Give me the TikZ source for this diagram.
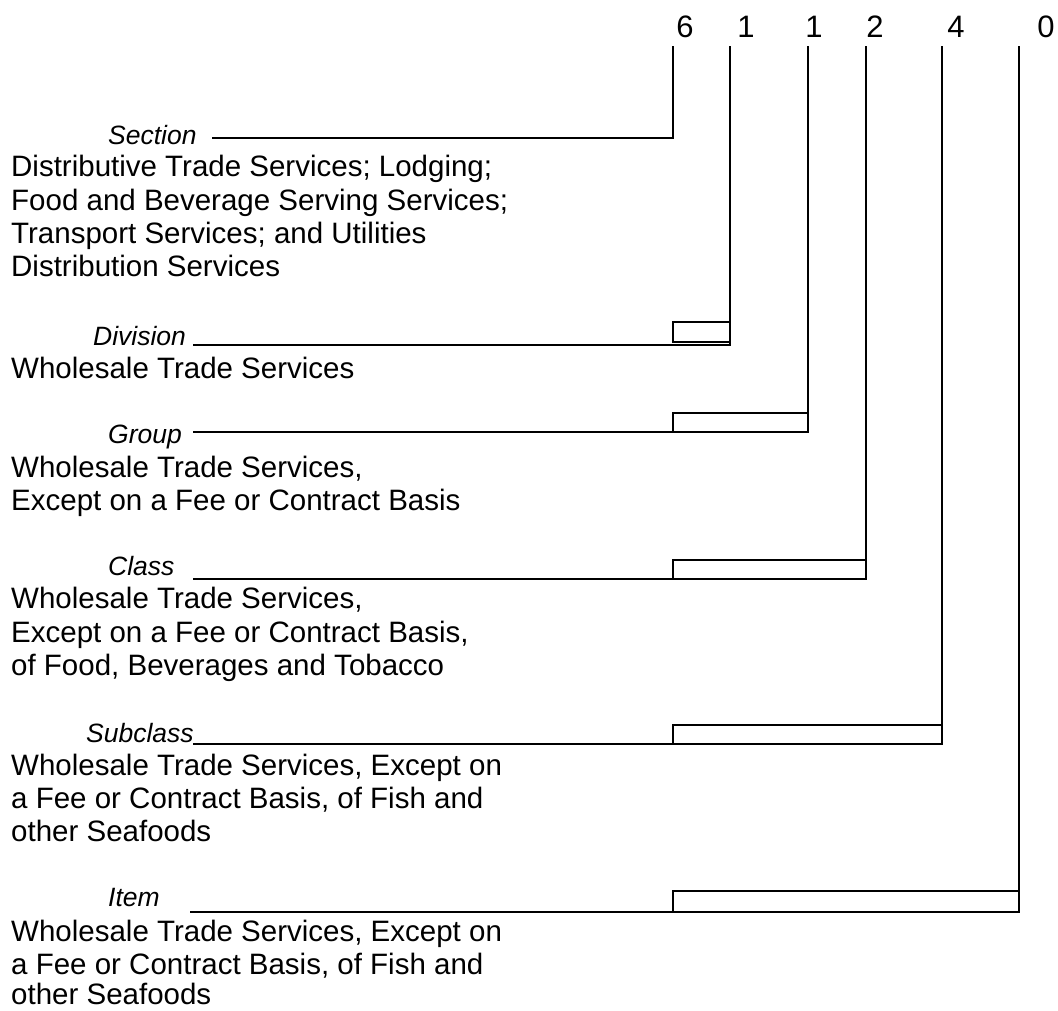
\documentclass[tikz,border=0pt]{standalone}
\usepackage{fontspec}
\setmainfont{Liberation Sans}
\begin{document}
\begin{tikzpicture}[x=1pt,y=-1pt,
  body/.style={anchor=base west,inner sep=0pt,font=\fontsize{29.5}{33}\selectfont},
  lab/.style={anchor=base west,inner sep=0pt,font=\fontsize{26.5}{30}\selectfont\itshape},
  digit/.style={anchor=base,inner sep=0pt,font=\fontsize{31}{35}\selectfont},
  ln/.style={line width=2.8pt},
  bx/.style={line width=2.6pt}]
\useasboundingbox (0,0) rectangle (1058,1010);
% digits
\node[digit] (d1) at (685,37) {6};
\node[digit] (d2) at (746,37) {1};
\node[digit] (d3) at (814,37) {1};
\node[digit] (d4) at (875,37) {2};
\node[digit] (d5) at (956,37) {4};
\node[digit] (d6) at (1046,37) {0};
% Section
\node[lab] (lsec) at (108,144) {Section};
\node[body] (s1) at (11,176) {Distributive Trade Services; Lodging;};
\node[body] (s2) at (11,210) {Food and Beverage Serving Services;};
\node[body] (s3) at (11,243) {Transport Services; and Utilities};
\node[body] (s4) at (11,276) {Distribution Services};
\coordinate (a0) at (212,138);
\coordinate (a1) at (673,138);
\coordinate (a2) at (673,46);
\draw[ln] (a0) -- (a1) -- (a2);
% Division
\node[lab] (ldiv) at (93,345) {Division};
\node[body] (v1) at (11,378) {Wholesale Trade Services};
\coordinate (b0) at (193,345);
\coordinate (b1) at (730,345);
\coordinate (b2) at (730,46);
\draw[ln] (b0) -- (b1) -- (b2);
\draw[bx] (673,322) rectangle (730,342);
% Group
\node[lab] (lgrp) at (108,443) {Group};
\node[body] (g1) at (11,477) {Wholesale Trade Services,};
\node[body] (g2) at (11,510) {Except on a Fee or Contract Basis};
\coordinate (c0) at (193,432);
\coordinate (c1) at (808,432);
\coordinate (c2) at (808,46);
\draw[ln] (c0) -- (c1) -- (c2);
\draw[bx] (673,432) rectangle (808,413);
% Class
\node[lab] (lcls) at (108,575) {Class};
\node[body] (k1) at (11,608) {Wholesale Trade Services,};
\node[body] (k2) at (11,642) {Except on a Fee or Contract Basis,};
\node[body] (k3) at (11,675) {of Food, Beverages and Tobacco};
\coordinate (e0) at (193,579);
\coordinate (e1) at (866,579);
\coordinate (e2) at (866,46);
\draw[ln] (e0) -- (e1) -- (e2);
\draw[bx] (673,579) rectangle (866,560);
% Subclass
\node[lab] (lsub) at (86,742) {Subclass};
\node[body] (u1) at (11,775) {Wholesale Trade Services, Except on};
\node[body] (u2) at (11,808) {a Fee or Contract Basis, of Fish and};
\node[body] (u3) at (11,841) {other Seafoods};
\coordinate (f0) at (193,744);
\coordinate (f1) at (942,744);
\coordinate (f2) at (942,46);
\draw[ln] (f0) -- (f1) -- (f2);
\draw[bx] (673,744) rectangle (942,725);
% Item
\node[lab] (litm) at (108,906) {Item};
\node[body] (i1) at (11,941) {Wholesale Trade Services, Except on};
\node[body] (i2) at (11,974) {a Fee or Contract Basis, of Fish and};
\node[body] (i3) at (11,1004) {other Seafoods};
\coordinate (h0) at (190,912);
\coordinate (h1) at (1019,912);
\coordinate (h2) at (1019,46);
\draw[ln] (h0) -- (h1) -- (h2);
\draw[bx] (673,912) rectangle (1019,891);
\end{tikzpicture}
\end{document}
